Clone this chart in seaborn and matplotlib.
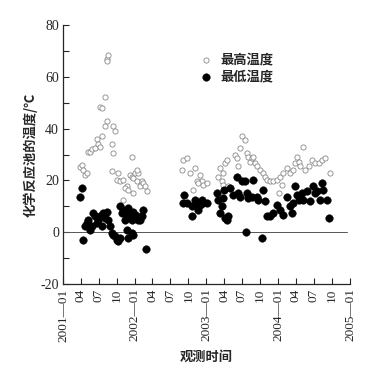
import pandas as pd
import matplotlib
matplotlib.use("Agg")
import matplotlib.pyplot as plt
import seaborn as sns

# days since 2001-01-01 and temperatures
max_days = [85, 94, 102, 111, 119, 128, 136, 145, 162, 170, 179, 187, 196, 187, 196, 213, 221, 230, 224,
            213, 221, 255, 264, 255, 247,
            247, 272, 281, 289, 306, 323, 306, 340, 349, 357, 366, 374, 383, 391, 400, 408, 417, 425,
            349, 374, 315, 332, 357,
            604, 612, 629, 646, 672, 680, 697, 706, 689, 663, 714, 731,
            791, 799, 808, 816, 825, 833, 816, 842,
            876, 884, 893, 901, 910, 927, 935, 944, 952, 961, 969, 978, 986, 1003, 1020, 1029, 1037,
            1054, 1071, 1088, 1105, 1122, 1139, 1097, 1114, 1156, 1173, 1182, 1190,
            1199, 1207, 1224, 1233, 1250, 1267, 1284, 1301, 1318, 1335, 1360]
max_temp = [25, 26, 24, 22, 23, 31, 31, 32, 32.5, 36, 34, 33, 37, 48.5, 48, 52, 67, 68.5, 66,
            41, 43, 41, 39, 30.5, 34,
            23.5, 20, 23, 19.6, 20, 18, 12.5, 22, 21.5, 21, 23, 19.6, 23, 18, 19.6, 19, 17.7, 15.8,
            29, 24, 17, 16.4, 15,
            24, 28, 28.6, 23, 24.7, 19.6, 22, 19.6, 19, 16.4, 18.3, 19,
            21.5, 24.7, 19.6, 23, 26.7, 28, 18.3, 17.7,
            30, 28.6, 25.4, 32.4, 37, 35.6, 30.5, 29, 27.3, 28.6, 29, 26.7, 25.4, 24, 23, 21.5, 20,
            19.6, 19.6, 20.3, 21.5, 23, 24.7, 15, 18.3, 23, 24, 26.7, 29,
            27.3, 25.4, 33, 24, 25.4, 28, 26.7, 26.7, 28, 28.6, 23]

min_days = [85, 94, 99,
            111, 119, 128, 136, 145, 153, 162, 170, 179, 187, 196, 204, 213, 221, 230, 238,
            247, 255, 264, 272, 281, 289, 323, 332, 349, 357,
            289, 298, 306, 315, 323, 332, 340, 349, 357, 366, 374, 383, 391, 400, 408,
            420,
            612, 617, 629, 655, 655, 672, 680, 689, 697, 706, 714, 731,
            782, 791, 799, 808, 816, 819, 825, 833, 842, 850,
            867, 884, 893, 901, 910, 927, 935, 944, 932, 961, 969, 986, 995, 1012, 1020,
            1029, 1037, 1054, 1071, 1088, 1105, 1122, 1139, 1156, 1165, 1173,
            1182, 1190, 1199, 1207, 1216, 1224, 1241, 1258, 1275, 1284, 1292, 1309, 1318, 1326, 1343, 1352]
min_temp = [13.8, 17, -2.8,
            2.3, 3.6, 4.9, 1, 2.3, 7.4, 6.2, 3.6, 4.9, 6.2, 2.3, 7.4, 5.5, 8, 4.9, 2.3,
            -0.3, -1, -1.5, -2.8, -3.4, -2.2, 1, -2.2, -0.3, -1,
            10, 7.4, 8.7, 4.9, 6.2, 9.4, 7.4, 4.9, 8, 6.8, 6.2, 4.9, 4.9, 6.2, 8.7,
            -6.4,
            11.3, 14.5, 11.3, 6.2, 10, 12.6, 10, 8.7, 10.6, 12.6, 11.3, 11.3,
            15, 12.6, 7.4, 10, 13.2, 16.4, 5.5, 4.9, 6.2, 17,
            14.5, 21.5, 15, 13.8, 19.6, 19.6, 15, 13.2, 0, 13.8, 20.3, 13.8, 12.6, -2.2, 16.4,
            11.9, 6.2, 6.2, 7.4, 10.6, 8.7, 6.8, 13.8, 10, 7.4, 11.3,
            17.7, 14.5, 12.6, 13.8, 15, 12.6, 15.8, 11.9, 17.7, 15, 15.8, 12.6, 19, 16.4, 12.6, 5.5]

tick_dates = pd.date_range("2001-01-01", "2005-01-01", freq="3MS")
tick_labels = [d.strftime("%Y—%m") if d.month == 1 else d.strftime("%m") for d in tick_dates]

start = pd.Timestamp("2001-01-01")
df_max = pd.DataFrame({"date": start + pd.to_timedelta(max_days, unit="D"), "temp": max_temp})
df_min = pd.DataFrame({"date": start + pd.to_timedelta(min_days, unit="D"), "temp": min_temp})

sns.set_style("ticks")
plt.rcParams["font.family"] = ["Noto Sans CJK SC", "DejaVu Sans"]
num_font = ["Liberation Serif", "DejaVu Serif"]

fig = plt.figure(figsize=(3.85, 3.71), dpi=100)
ax = fig.add_axes([0.164, 0.234, 0.745, 0.699])

ax.plot([start, pd.Timestamp("2004-12-15")], [0, 0], color="#555555", lw=0.7, zorder=1)
sns.scatterplot(data=df_max, x="date", y="temp", ax=ax, marker="o", s=14,
                facecolor="white", edgecolor="#888888", linewidth=0.6, label="最高温度", zorder=2)
sns.scatterplot(data=df_min, x="date", y="temp", ax=ax, marker="o", s=30,
                color="black", edgecolor="black", linewidth=0.3, label="最低温度", zorder=3)

ax.set_xlim(start, pd.Timestamp("2005-01-01"))
ax.set_ylim(-20, 80)
ax.set_xticks(tick_dates)
ax.set_xticklabels(tick_labels, rotation=90, va="top", ha="center", fontsize=9.5,
                   family=num_font)
ax.set_yticks(range(-20, 81, 10))
ax.set_yticklabels([str(v) if v % 20 == 0 else "" for v in range(-20, 81, 10)], fontsize=10,
                   family=num_font)
ax.tick_params(direction="in", length=4, width=0.8, pad=3)
sns.despine(ax=ax)
for s in ["left", "bottom"]:
    ax.spines[s].set_linewidth(0.9)

ax.set_xlabel("观测时间", fontsize=9.5, fontweight="bold", labelpad=6)
ax.set_ylabel("化学反应池的温度/℃", fontsize=9.5, fontweight="bold", labelpad=2)

leg = ax.legend(loc="upper left", bbox_to_anchor=(0.43, 0.92), frameon=False, fontsize=9.5,
                handletextpad=0.1, borderpad=0, labelspacing=0.25, markerscale=1.0)
for t in leg.get_texts():
    t.set_fontweight("bold")

fig.savefig("out.png", dpi=100)
